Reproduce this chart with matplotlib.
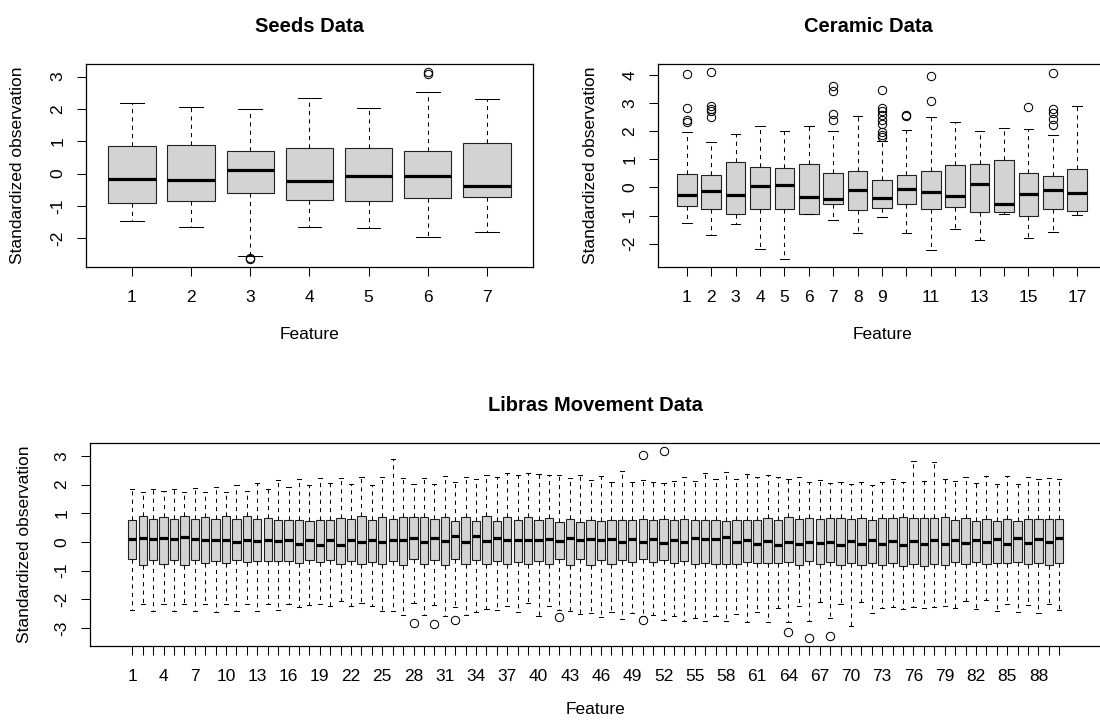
import matplotlib
matplotlib.use("Agg")
import matplotlib.pyplot as plt
import numpy as np

plt.rcParams['font.family'] = ['Liberation Sans', 'DejaVu Sans']

# ---------------- Seeds data ----------------
seeds_whi = [2.18, 2.05, 1.99, 2.35, 2.04, 2.54, 2.32]
seeds_q3 = [0.84, 0.89, 0.71, 0.78, 0.79, 0.71, 0.94]
seeds_med = [-0.18, -0.19, 0.10, -0.24, -0.06, -0.06, -0.37]
seeds_q1 = [-0.90, -0.86, -0.61, -0.82, -0.85, -0.76, -0.73]
seeds_wlo = [-1.46, -1.65, -2.56, -1.65, -1.67, -1.96, -1.81]
seeds_fliers = {3: [-2.61, -2.66], 6: [3.09, 3.16]}

# ---------------- Ceramic data ----------------
cer_whi = [1.96, 1.61, 1.91, 2.20, 2.00, 2.20, 2.02, 2.54, 1.66, 2.04, 2.49, 2.31, 2.00, 2.13, 2.08, 1.88, 2.89]
cer_q3 = [0.49, 0.45, 0.92, 0.73, 0.69, 0.85, 0.52, 0.59, 0.28, 0.46, 0.57, 0.79, 0.84, 0.99, 0.53, 0.39, 0.64]
cer_med = [-0.27, -0.12, -0.26, 0.06, 0.09, -0.34, -0.40, -0.09, -0.38, -0.05, -0.17, -0.32, 0.13, -0.59, -0.22, -0.09, -0.19]
cer_q1 = [-0.65, -0.76, -0.95, -0.77, -0.75, -0.93, -0.60, -0.79, -0.72, -0.58, -0.76, -0.70, -0.88, -0.86, -1.00, -0.76, -0.85]
cer_wlo = [-1.25, -1.68, -1.31, -2.17, -2.56, -0.93, -1.16, -1.62, -1.04, -1.62, -2.22, -1.46, -1.88, -0.93, -1.79, -1.59, -0.97]
cer_fliers = {
    1: [4.02, 2.82, 2.38, 2.31],
    2: [4.12, 2.88, 2.79, 2.71, 2.50],
    7: [3.59, 3.41, 2.62, 2.40],
    9: [3.48, 2.83, 2.71, 2.59, 2.38, 2.26, 1.96, 1.87, 1.81],
    10: [2.57, 2.53],
    11: [3.96, 3.08],
    15: [2.86],
    16: [4.06, 2.78, 2.65, 2.44, 2.21],
}

# ---------------- Libras Movement data ----------------
lib_whi = [1.83, 1.75, 1.83, 1.78, 1.85, 1.75, 1.87, 1.75, 1.92, 1.75,
           1.97, 1.79, 2.05, 1.85, 2.16, 1.90, 2.20, 2.00, 2.23, 2.06,
           2.23, 2.02, 2.26, 2.00, 2.28, 2.91, 2.24, 2.01, 2.24, 2.02,
           2.30, 2.09, 2.26, 2.19, 2.35, 2.28, 2.40, 2.35, 2.40, 2.36,
           2.33, 2.35, 2.24, 2.33, 2.17, 2.29, 2.10, 2.49, 2.08, 2.15,
           2.10, 2.07, 2.13, 2.28, 2.12, 2.40, 2.20, 2.43, 2.20, 2.36,
           2.26, 2.33, 2.28, 2.19, 2.28, 2.08, 2.17, 2.06, 2.10, 2.03,
           2.10, 1.99, 2.10, 2.21, 2.09, 2.84, 2.12, 2.79, 2.20, 2.14,
           2.28, 2.07, 2.31, 2.01, 2.30, 2.01, 2.28, 2.21, 2.24, 2.21]
lib_q3 = [0.76, 0.89, 0.79, 0.88, 0.79, 0.89, 0.79, 0.88, 0.79, 0.91,
          0.79, 0.91, 0.79, 0.84, 0.76, 0.77, 0.75, 0.73, 0.77, 0.75,
          0.83, 0.79, 0.90, 0.77, 0.87, 0.79, 0.87, 0.87, 0.87, 0.79,
          0.87, 0.73, 0.87, 0.72, 0.90, 0.72, 0.86, 0.76, 0.86, 0.76,
          0.85, 0.71, 0.79, 0.70, 0.76, 0.72, 0.76, 0.76, 0.77, 0.80,
          0.76, 0.79, 0.77, 0.79, 0.77, 0.77, 0.77, 0.73, 0.76, 0.77,
          0.78, 0.85, 0.77, 0.88, 0.79, 0.85, 0.81, 0.83, 0.85, 0.79,
          0.85, 0.76, 0.83, 0.83, 0.86, 0.83, 0.84, 0.83, 0.86, 0.76,
          0.83, 0.72, 0.81, 0.72, 0.79, 0.72, 0.81, 0.79, 0.79, 0.79]
lib_med = [0.10, 0.15, 0.10, 0.15, 0.09, 0.16, 0.09, 0.08, 0.07, 0.07,
           0.01, 0.06, 0.03, 0.06, 0.02, 0.05, -0.07, 0.05, -0.09, 0.06,
           -0.10, 0.07, -0.02, 0.07, 0.00, 0.05, 0.05, 0.12, -0.01, 0.12,
           0.02, 0.19, -0.01, 0.19, 0.02, 0.15, 0.06, 0.08, 0.08, 0.08,
           0.10, 0.02, 0.12, 0.07, 0.10, 0.05, 0.10, -0.01, 0.10, 0.01,
           0.09, -0.05, 0.07, 0.01, 0.12, 0.10, 0.10, 0.16, 0.00, 0.07,
           -0.06, 0.02, -0.10, -0.01, -0.07, 0.01, -0.05, -0.02, -0.09, 0.02,
           -0.06, 0.05, -0.08, 0.02, -0.09, 0.02, -0.08, 0.06, -0.08, 0.07,
           -0.05, 0.08, -0.02, 0.09, -0.06, 0.12, -0.05, 0.10, -0.02, 0.14]
lib_q1 = [-0.59, -0.79, -0.62, -0.77, -0.62, -0.79, -0.64, -0.75, -0.67, -0.73,
          -0.62, -0.69, -0.65, -0.67, -0.68, -0.67, -0.72, -0.64, -0.71, -0.64,
          -0.76, -0.66, -0.76, -0.69, -0.76, -0.66, -0.81, -0.60, -0.78, -0.64,
          -0.81, -0.60, -0.78, -0.63, -0.78, -0.66, -0.77, -0.70, -0.78, -0.66,
          -0.76, -0.59, -0.80, -0.59, -0.79, -0.64, -0.78, -0.63, -0.71, -0.60,
          -0.70, -0.64, -0.72, -0.66, -0.76, -0.74, -0.77, -0.77, -0.76, -0.69,
          -0.72, -0.74, -0.74, -0.71, -0.81, -0.67, -0.78, -0.70, -0.79, -0.72,
          -0.80, -0.74, -0.80, -0.74, -0.84, -0.78, -0.83, -0.78, -0.80, -0.70,
          -0.77, -0.70, -0.77, -0.72, -0.74, -0.69, -0.78, -0.72, -0.79, -0.72]
lib_wlo = [-2.37, -2.15, -2.42, -2.15, -2.42, -2.15, -2.42, -2.16, -2.43, -2.15,
           -2.42, -2.15, -2.42, -2.15, -2.37, -2.17, -2.27, -2.20, -2.15, -2.23,
           -2.06, -2.24, -2.13, -2.22, -2.40, -2.40, -2.55, -2.14, -2.56, -2.20,
           -2.58, -2.26, -2.55, -2.43, -2.35, -2.37, -2.24, -2.45, -2.13, -2.60,
           -2.22, -2.37, -2.40, -2.51, -2.48, -2.62, -2.45, -2.69, -2.48, -2.58,
           -2.55, -2.73, -2.58, -2.76, -2.64, -2.76, -2.60, -2.76, -2.53, -2.80,
           -2.43, -2.80, -2.31, -2.80, -2.22, -2.76, -2.08, -2.64, -2.15, -2.94,
           -2.09, -2.47, -2.30, -2.26, -2.35, -2.28, -2.31, -2.27, -2.22, -2.31,
           -2.05, -2.33, -2.03, -2.40, -2.17, -2.43, -2.21, -2.47, -2.15, -2.38]
lib_fliers = {28: [-2.84], 30: [-2.88], 32: [-2.71], 42: [-2.62],
              50: [3.05, -2.73], 52: [3.19], 64: [-3.16], 66: [-3.37], 68: [-3.27]}

seeds_labels = [str(i) for i in range(1, 8)]
cer_labels = [str(i) if (i <= 9 or i % 2 == 1) else '' for i in range(1, 18)]
lib_labels = [str(i) if (i - 1) % 3 == 0 else '' for i in range(1, 91)]

W, H = 1100, 722
fig = plt.figure(figsize=(W / 100, H / 100), dpi=100)


def px_axes(left, top, right, bottom):
    return fig.add_axes([left / W, 1 - bottom / H, (right - left) / W, (bottom - top) / H])


def draw(ax, whi, q3, med, q1, wlo, fliers, labels, yticks, title,
         xlabelpad, ylabelpad):
    n = len(med)
    stats = []
    for i in range(n):
        stats.append(dict(med=med[i], q1=q1[i], q3=q3[i], whislo=wlo[i], whishi=whi[i],
                          fliers=fliers.get(i + 1, [])))
    pos = np.arange(1, n + 1)
    ax.bxp(stats, positions=pos, widths=0.8, capwidths=0.4, patch_artist=True,
           showfliers=True,
           boxprops=dict(facecolor='#D3D3D3', edgecolor='#222222', linewidth=0.8),
           medianprops=dict(color='black', linewidth=2.3, solid_capstyle='butt'),
           whiskerprops=dict(color='black', linewidth=0.75, linestyle=(0, (4, 4))),
           capprops=dict(color='black', linewidth=0.75),
           flierprops=dict(marker='o', markerfacecolor='none', markeredgecolor='black',
                           markersize=6, markeredgewidth=0.75, linestyle='none'))
    allv = list(whi) + list(wlo) + [v for f in fliers.values() for v in f]
    lo, hi = min(allv), max(allv)
    r = hi - lo
    ax.set_ylim(lo - 0.04 * r, hi + 0.04 * r)
    xr = n
    ax.set_xlim(0.5 - 0.04 * xr, n + 0.5 + 0.04 * xr)
    ax.set_xticks(pos)
    ax.set_xticklabels(labels)
    ax.set_yticks(yticks)
    ax.set_yticklabels([str(v) for v in yticks], rotation=90, va='center')
    ax.tick_params(axis='both', direction='out', length=6.7, width=0.75, labelsize=12.5)
    ax.tick_params(axis='x', pad=10)
    ax.tick_params(axis='y', pad=8)
    for s in ax.spines.values():
        s.set_linewidth(0.9)
    ax.set_xlabel('Feature', fontsize=12.5, labelpad=xlabelpad)
    ax.set_ylabel('Standardized observation', fontsize=12.5, labelpad=ylabelpad)
    ax.set_title(title, fontsize=14.5, fontweight='bold', pad=23)


ax1 = px_axes(85.7, 64, 533, 267)
draw(ax1, seeds_whi, seeds_q3, seeds_med, seeds_q1, seeds_wlo, seeds_fliers,
     seeds_labels, [-2, -1, 0, 1, 2, 3], 'Seeds Data', 16, 18)

ax2 = px_axes(658, 64, 1106, 267)
draw(ax2, cer_whi, cer_q3, cer_med, cer_q1, cer_wlo, cer_fliers,
     cer_labels, [-2, -1, 0, 1, 2, 3, 4], 'Ceramic Data', 16, 18)
ax2.title.set_x((868 - 658) / (1106 - 658))

ax3 = px_axes(89.6, 443, 1102, 646)
draw(ax3, lib_whi, lib_q3, lib_med, lib_q1, lib_wlo, lib_fliers,
     lib_labels, [-3, -2, -1, 0, 1, 2, 3], 'Libras Movement Data', 12.5, 16)

fig.savefig('out.png', dpi=100)
